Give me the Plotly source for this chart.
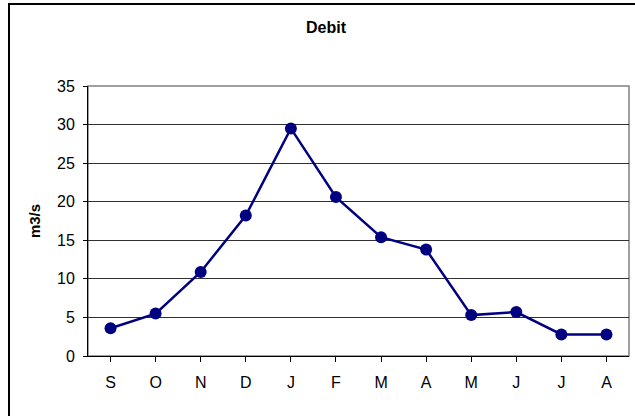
import plotly.graph_objects as go

months = ["S", "O", "N", "D", "J", "F", "M", "A", "M", "J", "J", "A"]
debit = [3.6, 5.5, 10.9, 18.2, 29.5, 20.6, 15.4, 13.8, 5.3, 5.7, 2.8, 2.8]
y_ticks = [0, 5, 10, 15, 20, 25, 30, 35]

W, H = 635, 416
L, R, T, B = 88, 6, 86, 60
pw, ph = W - L - R, H - T - B

xi = list(range(len(months)))

fig = go.Figure()
fig.add_trace(go.Scatter(
    x=xi, y=debit, mode="lines+markers",
    line=dict(color="#000080", width=2.5),
    marker=dict(color="#000080", size=12),
    showlegend=False, cliponaxis=False,
))

def px2paper_x(p):
    return (p - L) / pw

def py2paper_y(p):
    return (H - B - p) / ph

fig.update_layout(
    width=W, height=H,
    margin=dict(l=L, r=R, t=T, b=B),
    paper_bgcolor="white", plot_bgcolor="white",
    font=dict(family="Liberation Sans, Arial, sans-serif", color="black", size=16),
    title=dict(text="<b>Debit</b>", x=326 / W, xanchor="center",
               y=1 - 27 / H, yanchor="middle", yref="container",
               font=dict(size=16, color="black")),
    xaxis=dict(
        tickmode="array", tickvals=xi, ticktext=months,
        range=[-0.5, len(months) - 0.5],
        showgrid=False, zeroline=False,
        showline=True, linecolor="black", linewidth=1,
        ticks="outside", tickson="boundaries", ticklen=5, tickcolor="black",
        ticklabelstandoff=7,
        fixedrange=True,
    ),
    yaxis=dict(
        range=[0, 35], tickmode="array", tickvals=y_ticks,
        showgrid=True, gridcolor="#303030", gridwidth=1,
        zeroline=False,
        showline=True, linecolor="black", linewidth=1,
        ticks="outside", ticklen=4, tickcolor="black",
        ticklabelstandoff=5,
        title=dict(text="<b>m3/s</b>", font=dict(size=15), standoff=12),
        fixedrange=True,
    ),
    shapes=[
        dict(type="rect", xref="paper", yref="paper", x0=0, x1=1, y0=0, y1=1,
             line=dict(color="#808080", width=1.5), layer="below"),
        dict(type="rect", xref="paper", yref="paper",
             x0=px2paper_x(9), x1=px2paper_x(W + 20),
             y0=py2paper_y(H + 20), y1=py2paper_y(4),
             line=dict(color="black", width=2), layer="below"),
    ],
)

fig.write_html("out.html")
